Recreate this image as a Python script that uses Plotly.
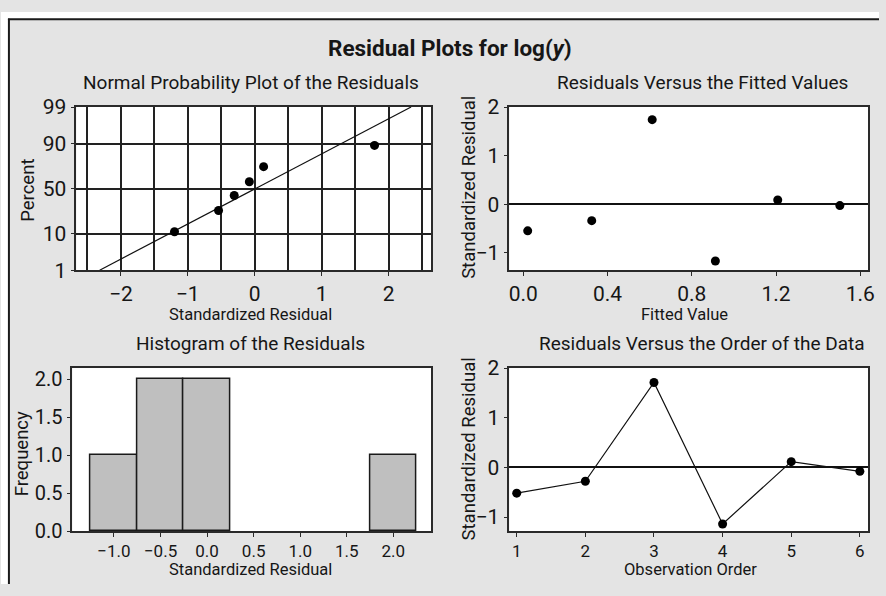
import plotly.graph_objects as go
from statistics import NormalDist

W, H = 886, 596

# ---- data -------------------------------------------------------------
# normal probability plot: ordered standardized residuals and plotting percents
npp_resid = [-1.198, -0.54, -0.306, -0.08, 0.133, 1.79]
npp_percent = [10.9, 26.6, 42.2, 57.8, 73.4, 89.1]
fit_mean, fit_sd = 0.01, 1.0
prob_ticks = [1, 10, 50, 90, 99]

# residuals versus fitted values
fitted_values = [0.021, 0.325, 0.612, 0.912, 1.208, 1.503]
resid_vs_fit = [-0.55, -0.34, 1.74, -1.17, 0.085, -0.03]

# histogram of the residuals
hist_resid = [-1.198, -0.54, -0.306, -0.08, 0.133, 1.79]
hist_bin_start, hist_bin_end, hist_bin_size = -1.25, 2.25, 0.5

# residuals versus observation order
obs_order = [1, 2, 3, 4, 5, 6]
resid_vs_order = [-0.52, -0.28, 1.71, -1.14, 0.115, -0.08]

# ---- helpers ----------------------------------------------------------
FONT = "Roboto, Liberation Sans, sans-serif"
INK = "#161616"
nd = NormalDist()


def px(x):
    return x / W


def py(y):
    return 1 - y / H


def z(p):
    return nd.inv_cdf(p / 100.0)


def base_axis(**kw):
    d = dict(showline=True, mirror=True, linecolor="#2a2a2a", linewidth=1.6,
             ticks="outside", ticklen=4, tickwidth=1.3, tickcolor="#2a2a2a",
             showgrid=False, zeroline=False, fixedrange=True,
             tickfont=dict(family=FONT, size=21, color=INK))
    d.update(kw)
    return d


fig = go.Figure()

# normal probability plot
zl, zh = z(1), z(99)
fig.add_trace(go.Scatter(
    x=[fit_mean + fit_sd * zl, fit_mean + fit_sd * zh], y=[zl, zh],
    mode="lines", line=dict(color="#111", width=1.2),
    xaxis="x", yaxis="y", hoverinfo="skip"))
fig.add_trace(go.Scatter(
    x=npp_resid, y=[z(p) for p in npp_percent], mode="markers",
    marker=dict(color="black", size=9), xaxis="x", yaxis="y"))

# versus fits
fig.add_trace(go.Scatter(
    x=fitted_values, y=resid_vs_fit, mode="markers",
    marker=dict(color="black", size=9), xaxis="x2", yaxis="y2"))

# histogram
fig.add_trace(go.Histogram(
    x=hist_resid, xbins=dict(start=hist_bin_start, end=hist_bin_end, size=hist_bin_size),
    marker=dict(color="#bfbfbf", line=dict(color="#1a1a1a", width=1.5)),
    xaxis="x3", yaxis="y3"))

# versus order
fig.add_trace(go.Scatter(
    x=obs_order, y=resid_vs_order, mode="lines+markers",
    line=dict(color="#111", width=1.2),
    marker=dict(color="black", size=9), xaxis="x4", yaxis="y4"))

grid = dict(showgrid=True, gridcolor="#222", gridwidth=1.5)

fig.update_layout(
    autosize=True, margin=dict(l=0, r=0, t=0, b=0),
    paper_bgcolor="#e4e4e4", plot_bgcolor="white",
    showlegend=False, bargap=0,
    font=dict(family=FONT, color=INK),
    xaxis=base_axis(domain=[px(76), px(434)], anchor="y",
                    range=[-2.665, 2.635], tickmode="linear", tick0=0, dtick=1,
                    minor=dict(tickmode="linear", tick0=0, dtick=0.5, ticks="",
                               showgrid=True, gridcolor="#222", gridwidth=1.5),
                    tickfont=dict(family=FONT, size=21, color=INK), **grid),
    yaxis=base_axis(domain=[py(269), py(99)], anchor="x",
                    range=[zl, zh], tickmode="array",
                    tickvals=[z(p) for p in prob_ticks],
                    ticktext=[str(p) for p in prob_ticks], **grid),
    xaxis2=base_axis(domain=[px(513), px(875)], anchor="y2",
                     range=[-0.066, 1.637], tickmode="linear", tick0=0, dtick=0.4,
                     tickformat=".1f"),
    yaxis2=base_axis(domain=[py(269), py(99)], anchor="x2",
                     range=[-1.36, 2.001], tickmode="linear", tick0=0, dtick=1,
                     zeroline=True, zerolinecolor="#111", zerolinewidth=1.5),
    xaxis3=base_axis(domain=[px(72), px(434)], anchor="y3",
                     range=[-1.447, 2.405], tickmode="linear", tick0=0, dtick=0.5,
                     tickformat=".1f", tickfont=dict(family=FONT, size=17, color=INK)),
    yaxis3=base_axis(domain=[py(541), py(371)], anchor="x3",
                     range=[-0.001, 2.15], tickmode="linear", tick0=0, dtick=0.5,
                     tickformat=".1f", tickfont=dict(family=FONT, size=20, color=INK)),
    xaxis4=base_axis(domain=[px(513), px(875)], anchor="y4",
                     range=[0.893, 6.12], tickmode="linear", tick0=1, dtick=1,
                     tickfont=dict(family=FONT, size=17, color=INK)),
    yaxis4=base_axis(domain=[py(541), py(371)], anchor="x4",
                     range=[-1.286, 2.001], tickmode="linear", tick0=0, dtick=1,
                     zeroline=True, zerolinecolor="#111", zerolinewidth=1.5),
)

# white strip outside the framed panel, plus the frame edges
fig.add_shape(type="rect", xref="paper", yref="paper", x0=0, x1=1, y0=py(7), y1=1,
              fillcolor="white", line_width=0, layer="below")
fig.add_shape(type="rect", xref="paper", yref="paper", x0=0, x1=px(7), y0=0, y1=1,
              fillcolor="white", line_width=0, layer="below")
fig.add_shape(type="line", xref="paper", yref="paper", x0=px(7), x1=1, y0=py(7.5), y1=py(7.5),
              line=dict(color="#1a1a1a", width=2))
fig.add_shape(type="line", xref="paper", yref="paper", x0=px(8), x1=px(8), y0=0, y1=py(7),
              line=dict(color="#1a1a1a", width=2))


def label(text, x, y, size, angle=0):
    fig.add_annotation(text=text, x=px(x), y=py(y), xref="paper", yref="paper",
                       xanchor="center", yanchor="middle", showarrow=False,
                       textangle=angle, font=dict(family=FONT, size=size, color=INK))


label("<b>Residual Plots for log(</b><b><i>y</i></b><b>)</b>", 453, 37, 22.5)

label("Normal Probability Plot of the Residuals", 252, 73, 19)
label("Residuals Versus the Fitted Values", 707.5, 73, 19)
label("Histogram of the Residuals", 251.7, 345, 19)
label("Residuals Versus the Order of the Data", 707, 345, 19)

label("Standardized Residual", 252, 315, 16.5)
label("Fitted Value", 690, 315, 16.5)
label("Standardized Residual", 251.5, 581, 16.5)
label("Observation Order", 695.5, 581, 16.5)

label("Percent", 27, 185.5, 18.5, -90)
label("Standardized Residual", 471.5, 183, 18.5, -90)
label("Frequency", 22, 460, 18.5, -90)
label("Standardized Residual", 472, 455, 18.5, -90)

# the figure fills the page; drop the default body margin and refit
fig.write_html(
    "out.html",
    default_width="100vw", default_height="100vh",
    config={"responsive": True, "displayModeBar": False},
    post_script=(
        "document.documentElement.style.margin='0px';"
        "document.body.style.margin='0px';"
        "document.body.style.overflow='hidden';"
        "Plotly.Plots.resize(document.getElementById('{plot_id}'));"
    ),
)
